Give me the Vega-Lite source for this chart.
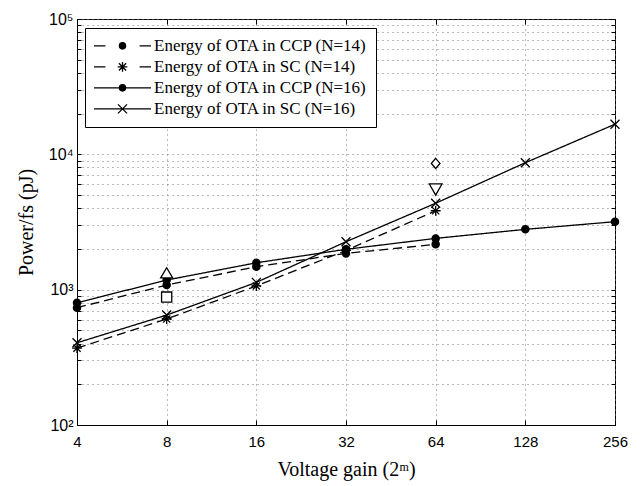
{
  "$schema": "https://vega.github.io/schema/vega-lite/v6.json",
  "width": 538,
  "height": 406,
  "autosize": "none",
  "padding": {"left": 77, "top": 19, "right": 29, "bottom": 61},
  "background": "white",
  "config": {
    "view": {"stroke": "black", "strokeWidth": 1},
    "axis": {
      "domainColor": "black", "tickColor": "black", "labelColor": "black", "titleColor": "black",
      "gridColor": "#777", "gridDash": [1, 4], "gridWidth": 1, "gridOpacity": 1,
      "labelFont": "Liberation Sans", "labelFontSize": 15,
      "titleFont": "Liberation Serif", "titleFontSize": 20, "titleFontWeight": "normal",
      "labelFlush": false, "labelOverlap": false, "labelBound": false
    },
    "legend": {
      "strokeColor": "black", "fillColor": "white", "padding": 8, "cornerRadius": 0,
      "labelFont": "Liberation Serif", "labelFontSize": 17, "labelColor": "black",
      "rowPadding": 1, "symbolSize": 3249, "labelOffset": 2, "labelLimit": 0, "clipHeight": 19.7,
      "symbolStrokeWidth": 1.3, "symbolOpacity": 1
    }
  },
  "datasets": {
    "curves": [
      {"series": "Energy of OTA in CCP (N=14)", "gain": 4, "energy": 736},
      {"series": "Energy of OTA in CCP (N=14)", "gain": 8, "energy": 1082},
      {"series": "Energy of OTA in CCP (N=14)", "gain": 16, "energy": 1477},
      {"series": "Energy of OTA in CCP (N=14)", "gain": 32, "energy": 1853},
      {"series": "Energy of OTA in CCP (N=14)", "gain": 64, "energy": 2162},
      {"series": "Energy of OTA in SC (N=14)", "gain": 4, "energy": 370},
      {"series": "Energy of OTA in SC (N=14)", "gain": 8, "energy": 607},
      {"series": "Energy of OTA in SC (N=14)", "gain": 16, "energy": 1065},
      {"series": "Energy of OTA in SC (N=14)", "gain": 32, "energy": 1950},
      {"series": "Energy of OTA in SC (N=14)", "gain": 64, "energy": 3830},
      {"series": "Energy of OTA in CCP (N=16)", "gain": 4, "energy": 800},
      {"series": "Energy of OTA in CCP (N=16)", "gain": 8, "energy": 1178},
      {"series": "Energy of OTA in CCP (N=16)", "gain": 16, "energy": 1580},
      {"series": "Energy of OTA in CCP (N=16)", "gain": 32, "energy": 1987},
      {"series": "Energy of OTA in CCP (N=16)", "gain": 64, "energy": 2393},
      {"series": "Energy of OTA in CCP (N=16)", "gain": 128, "energy": 2790},
      {"series": "Energy of OTA in CCP (N=16)", "gain": 256, "energy": 3180},
      {"series": "Energy of OTA in SC (N=16)", "gain": 4, "energy": 405},
      {"series": "Energy of OTA in SC (N=16)", "gain": 8, "energy": 649},
      {"series": "Energy of OTA in SC (N=16)", "gain": 16, "energy": 1132},
      {"series": "Energy of OTA in SC (N=16)", "gain": 32, "energy": 2260},
      {"series": "Energy of OTA in SC (N=16)", "gain": 64, "energy": 4350},
      {"series": "Energy of OTA in SC (N=16)", "gain": 128, "energy": 8670},
      {"series": "Energy of OTA in SC (N=16)", "gain": 256, "energy": 16700}
    ],
    "extra": [
      {"marker": "up", "gain": 8, "energy": 1318},
      {"marker": "square", "gain": 8, "energy": 881},
      {"marker": "diamond", "gain": 64, "energy": 8570},
      {"marker": "down", "gain": 64, "energy": 5510}
    ]
  },
  "layer": [
    {
      "data": {"name": "curves"},
      "mark": {"type": "line", "color": "black", "strokeWidth": 1.3},
      "encoding": {
        "x": {
          "field": "gain", "type": "quantitative",
          "scale": {"type": "log", "base": 2, "domain": [4, 256], "nice": false},
          "axis": {
            "values": [4, 8, 16, 32, 64, 128, 256], "format": "d", "grid": true,
            "tickSize": -5, "labelPadding": 14, "title": "Voltage gain (2ᵐ)", "titlePadding": 10
          }
        },
        "y": {
          "field": "energy", "type": "quantitative",
          "scale": {"type": "log", "domain": [100, 100000], "nice": false},
          "axis": {
            "values": [100, 200, 300, 400, 500, 600, 700, 800, 900, 1000, 2000, 3000, 4000, 5000, 6000, 7000, 8000, 9000, 10000, 20000, 30000, 40000, 50000, 60000, 70000, 80000, 90000, 100000],
            "labelExpr": "datum.value == 100 ? '10²' : datum.value == 1000 ? '10³' : datum.value == 10000 ? '10⁴' : datum.value == 100000 ? '10⁵' : ''",
            "grid": true, "tickSize": -4, "labelPadding": 8, "labelFontSize": 16,
            "title": "Power/fs (pJ)", "titlePadding": 12
          }
        },
        "strokeDash": {
          "field": "series", "type": "nominal",
          "scale": {
            "domain": ["Energy of OTA in CCP (N=14)", "Energy of OTA in SC (N=14)", "Energy of OTA in CCP (N=16)", "Energy of OTA in SC (N=16)"],
            "range": [[9, 5], [9, 5], [1, 0], [1, 0]]
          },
          "legend": null
        }
      }
    },
    {
      "data": {"name": "curves"},
      "mark": {"type": "point", "filled": true, "color": "black", "fill": "black", "stroke": "black", "strokeWidth": 1.3, "opacity": 1, "size": 81},
      "encoding": {
        "x": {"field": "gain", "type": "quantitative", "axis": null},
        "y": {"field": "energy", "type": "quantitative", "axis": null},
        "shape": {
          "field": "series", "type": "nominal",
          "scale": {
            "domain": ["Energy of OTA in CCP (N=14)", "Energy of OTA in SC (N=14)", "Energy of OTA in CCP (N=16)", "Energy of OTA in SC (N=16)"],
            "range": [
              "M-0.8,0A0.8,0.8,0,1,0,0.8,0A0.8,0.8,0,1,0,-0.8,0Z",
              "M-0.8,-0.8L0.8,0.8M-0.8,0.8L0.8,-0.8M0,-1.1L0,1.1M-1.1,0L1.1,0",
              "M-0.8,0A0.8,0.8,0,1,0,0.8,0A0.8,0.8,0,1,0,-0.8,0Z",
              "M-1,-1L1,1M-1,1L1,-1"
            ]
          },
          "legend": null
        }
      }
    },
    {
      "data": {"name": "extra"},
      "mark": {"type": "point", "filled": false, "color": "black", "stroke": "black", "fill": "white", "strokeWidth": 1.3, "opacity": 1, "size": 144},
      "encoding": {
        "x": {"field": "gain", "type": "quantitative", "axis": null},
        "y": {"field": "energy", "type": "quantitative", "axis": null},
        "shape": {
          "field": "marker", "type": "nominal",
          "scale": {
            "domain": ["up", "square", "diamond", "down"],
            "range": [
              "M0,-0.95L1,0.75L-1,0.75Z",
              "M-0.85,-0.85H0.85V0.85H-0.85Z",
              "M0,-0.85L0.72,0L0,0.85L-0.72,0Z",
              "M0,0.95L1.05,-0.9L-1.05,-0.9Z"
            ]
          },
          "legend": null
        }
      }
    },
    {
      "data": {"values": []},
      "mark": {"type": "point", "opacity": 0},
      "encoding": {
        "x": {
          "field": "gain", "type": "quantitative",
          "axis": {"orient": "top", "values": [4, 8, 16, 32, 64, 128, 256], "labels": false, "title": null, "grid": false, "domain": false, "tickSize": -5}
        },
        "y": {
          "field": "energy", "type": "quantitative",
          "axis": {
            "orient": "right",
            "values": [100, 200, 300, 400, 500, 600, 700, 800, 900, 1000, 2000, 3000, 4000, 5000, 6000, 7000, 8000, 9000, 10000, 20000, 30000, 40000, 50000, 60000, 70000, 80000, 90000, 100000],
            "labels": false, "title": null, "grid": false, "domain": false, "tickSize": -4
          }
        }
      }
    },
    {
      "data": {"values": []},
      "mark": {"type": "point", "filled": false, "color": "black", "strokeWidth": 1.3, "opacity": 1},
      "encoding": {
        "shape": {
          "field": "series", "type": "nominal",
          "scale": {
            "domain": ["Energy of OTA in CCP (N=14)", "Energy of OTA in SC (N=14)", "Energy of OTA in CCP (N=16)", "Energy of OTA in SC (N=16)"],
            "range": [
              "M-1,0L-0.6,0M0.6,0L1,0M-0.11,0A0.11,0.11,0,1,0,0.11,0A0.11,0.11,0,1,0,-0.11,0M-0.07,0A0.07,0.07,0,1,0,0.07,0A0.07,0.07,0,1,0,-0.07,0M-0.03,0A0.03,0.03,0,1,0,0.03,0A0.03,0.03,0,1,0,-0.03,0",
              "M-1,0L-0.6,0M0.6,0L1,0M-0.126,-0.126L0.126,0.126M-0.126,0.126L0.126,-0.126M0,-0.17L0,0.17M-0.17,0L0.17,0",
              "M-1,0L1,0M-0.11,0A0.11,0.11,0,1,0,0.11,0A0.11,0.11,0,1,0,-0.11,0M-0.07,0A0.07,0.07,0,1,0,0.07,0A0.07,0.07,0,1,0,-0.07,0M-0.03,0A0.03,0.03,0,1,0,0.03,0A0.03,0.03,0,1,0,-0.03,0",
              "M-1,0L1,0M-0.158,-0.158L0.158,0.158M-0.158,0.158L0.158,-0.158"
            ]
          },
          "legend": {
            "title": null, "orient": "none", "legendX": 8, "legendY": 9,
            "labelFont": "Liberation Serif", "labelFontSize": 17
          }
        }
      }
    }
  ],
  "resolve": {
    "scale": {"shape": "independent", "strokeDash": "independent"},
    "axis": {"x": "independent", "y": "independent"}
  }
}
